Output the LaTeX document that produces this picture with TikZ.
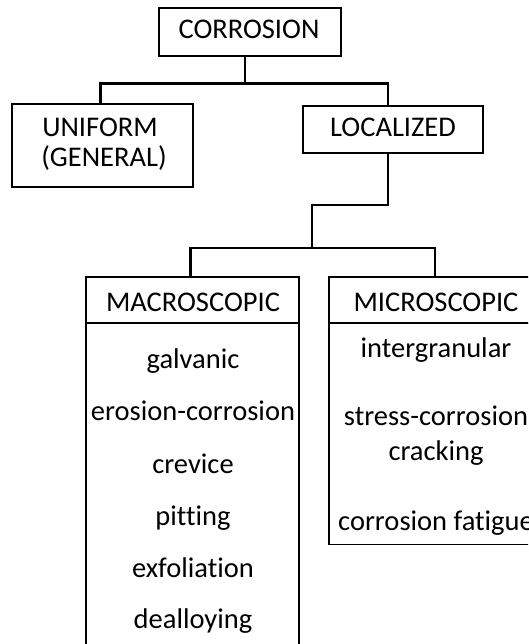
\documentclass[tikz,border=0pt]{standalone}
\usepackage{fontspec}
\setmainfont{Carlito}[Ligatures=NoCommon]
\begin{document}
\begin{tikzpicture}[x=1pt,y=-1pt,
  box/.style={draw=black,line width=1.3pt,minimum width=#1,inner sep=0pt},
  conn/.style={draw=black,line width=2.6pt,line cap=rect},
  txt/.style={anchor=base,inner sep=0pt,font=\fontsize{28.5}{32}\selectfont}]
\useasboundingbox (0,0) rectangle (528,644);
\clip (0,0) rectangle (528,644);
\fill[white] (0,0) rectangle (528,644);
% boxes
\node[box=182pt,minimum height=48pt] (corr) at (250,32) {};
\node[box=181pt,minimum height=83pt] (unif) at (102.5,145.5) {};
\node[box=180pt,minimum height=47pt] (loc) at (393,129.5) {};
\node[box=213pt,minimum height=46pt] (macroh) at (192.5,300) {};
\node[box=213pt,minimum height=377pt,anchor=north] (macrob) at (192.5,323) {};
\node[box=212pt,minimum height=46pt] (microh) at (435,300) {};
\node[box=212pt,minimum height=221pt,anchor=north] (microb) at (435,323) {};
% texts
\node[txt] (tcorr) at (249,39) {CORROSION};
\node[txt] (tunif1) at (100,137) {UNIFORM};
\node[txt] (tunif2) at (104,167) {(GENERAL)};
\node[txt] (tloc) at (393,137) {LOCALIZED};
\node[txt] (tmacro) at (193,311) {MACROSCOPIC};
\node[txt] (tmicro) at (436,311) {MICROSCOPIC};
\node[txt] (m1) at (193,368) {galvanic};
\node[txt] (m2) at (193,420) {erosion-corrosion};
\node[txt] (m3) at (193,473) {crevice};
\node[txt] (m4) at (193,525) {pitting};
\node[txt] (m5) at (193,577) {exfoliation};
\node[txt] (m6) at (193,628) {dealloying};
\node[txt] (n1) at (436,357) {intergranular};
\node[txt] (n2) at (436,425) {stress-corrosion};
\node[txt] (n3) at (436,460) {cracking};
\node[txt] (n4) at (436,530) {corrosion fatigue};
% connectors
\coordinate (k1) at (312,205);
\coordinate (k2) at (312,248);
\draw[conn] ([xshift=-5pt]corr.south) -- ++(0,27) -| ([xshift=-2pt]unif.north);
\draw[conn] ([xshift=-5pt]corr.south) -- ++(0,27) -| ([xshift=-5pt]loc.north);
\draw[conn] ([xshift=-5pt]loc.south) |- (k1) -- (k2);
\draw[conn] ([xshift=-2pt]macroh.north) |- (k2) -| (microh.north);
\end{tikzpicture}
\end{document}
